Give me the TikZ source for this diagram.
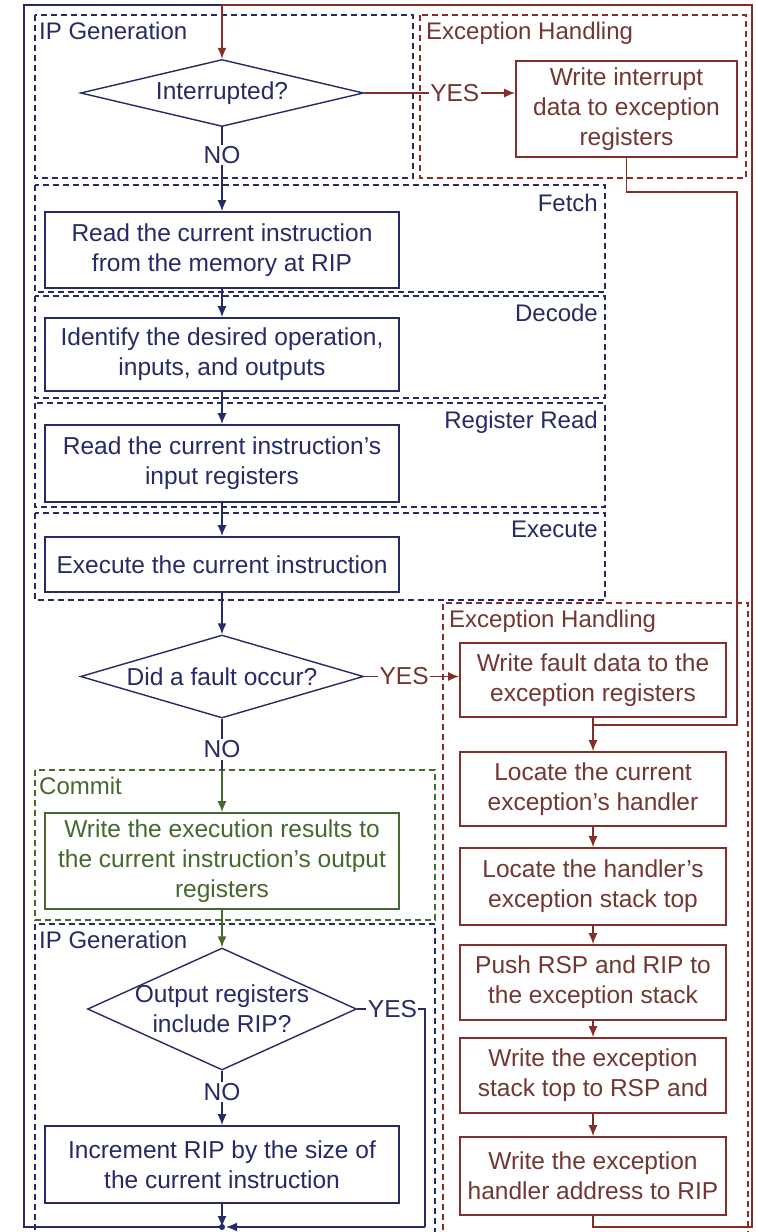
\documentclass[tikz,border=0pt]{standalone}
\usepackage{fontspec}
\setmainfont{Liberation Sans}
\usetikzlibrary{shapes.geometric,arrows.meta}
\definecolor{navy}{RGB}{38,42,102}
\definecolor{dred}{RGB}{135,45,40}
\definecolor{tred}{RGB}{115,55,50}
\definecolor{dgreen}{RGB}{70,105,45}
\begin{document}
\begin{tikzpicture}[x=1pt,y=-1pt,
  txt/.style={font=\fontsize{24.5}{30}\selectfont, align=center},
  bbox/.style={draw, line width=1.6pt, txt, inner sep=0pt},
  nbox/.style={bbox, draw=navy, text=navy, minimum width=354pt},
  rbox/.style={bbox, draw=dred, text=tred, minimum width=266pt},
  gbox/.style={bbox, draw=dgreen, text=dgreen, minimum width=354pt},
  dia/.style={shape=diamond, draw=navy, line width=1.4pt, inner sep=0pt},
  dlab/.style={txt, text=navy},
  grp/.style={line width=1.3pt, dash pattern=on 6pt off 4pt},
  glab/.style={font=\fontsize{24}{30}\selectfont, inner sep=2pt},
  ln/.style={line width=1.6pt},
  arr/.style={line width=1.6pt, -{Latex[length=11pt,width=9pt]}},
  yn/.style={txt, fill=white, inner sep=1.5pt},
]
\useasboundingbox (0,0) rectangle (756,1232);
\fill[white] (0,0) rectangle (756,1232);

% group boxes
\draw[grp, navy] (35,15) rectangle (413,178);
\node[glab, text=navy, anchor=north west] (gip1) at (37,20) {IP Generation};
\draw[grp, dred] (420,15) rectangle (746,178);
\node[glab, text=tred, anchor=north west] (gexc1) at (424,20) {Exception Handling};
\draw[grp, navy] (35,185) rectangle (605,292);
\node[glab, text=navy, anchor=north east] (gfetch) at (600,192) {Fetch};
\draw[grp, navy] (35,296) rectangle (605,398);
\node[glab, text=navy, anchor=north east] (gdec) at (600,302) {Decode};
\draw[grp, navy] (35,403) rectangle (605,507);
\node[glab, text=navy, anchor=north east] (greg) at (600,409) {Register Read};
\draw[grp, navy] (35,513) rectangle (605,600);
\node[glab, text=navy, anchor=north east] (gexe) at (600,519) {Execute};
\draw[grp, dred] (443,1240) -- (443,603) -- (748,603) -- (748,1240);
\node[glab, text=tred, anchor=north west] (gexc2) at (447,608) {Exception Handling};
\draw[grp, dgreen] (35,770) rectangle (435,920);
\node[glab, text=dgreen, anchor=north west] (gcom) at (37,775) {Commit};
\draw[grp, navy] (35,1240) -- (35,924) -- (435,924) -- (435,1240);
\node[glab, text=navy, anchor=north west] (gip2) at (37,929) {IP Generation};

% main column
\node[dia, minimum width=283pt, minimum height=67pt, label={[dlab]center:Interrupted?}] (d1) at (222,93) {};
\node[rbox, minimum width=221pt, minimum height=96pt] (intr) at (626.5,109) {Write interrupt\\data to exception\\registers};
\node[nbox, minimum height=76pt] (fetch) at (222,250) {Read the current instruction\\from the memory at RIP};
\node[nbox, minimum height=73pt] (decode) at (222,354.5) {Identify the desired operation,\\inputs, and outputs};
\node[nbox, minimum height=77pt] (regrd) at (222,463.5) {Read the current instruction’s\\input registers};
\node[nbox, minimum height=55pt] (exec) at (222,564.5) {Execute the current instruction};
\node[dia, minimum width=283pt, minimum height=83pt, label={[dlab]center:Did a fault occur?}] (d2) at (222,676.5) {};
\node[gbox, minimum height=96pt] (commit) at (222,861) {Write the execution results to\\the current instruction’s output\\registers};
\node[dia, minimum width=269pt, minimum height=122pt, label={[dlab]center:{Output registers\\include RIP?}}] (d3) at (222,1009) {};
\node[nbox, minimum height=77pt] (incr) at (222,1164.5) {Increment RIP by the size of\\the current instruction};

% exception column
\node[rbox, minimum height=74pt] (fault) at (593,680) {Write fault data to the\\exception registers};
\node[rbox, minimum height=74pt] (loc1) at (593,789) {Locate the current\\exception’s handler};
\node[rbox, minimum height=77pt] (loc2) at (593,886.5) {Locate the handler’s\\exception stack top};
\node[rbox, minimum height=75pt] (push) at (593,982.5) {Push RSP and RIP to\\the exception stack};
\node[rbox, minimum height=75pt] (wstk) at (593,1075.5) {Write the exception\\stack top to RSP and};
\node[rbox, minimum height=78pt] (whdl) at (593,1176) {Write the exception\\handler address to RIP};

% coordinates
\coordinate (tl) at (24,5);
\coordinate (tr) at (752,5);
\coordinate (bl) at (24,1227);
\coordinate (br) at (752,1227);
\coordinate (topj) at (222,5);
\coordinate (botj) at (222,1227);
\coordinate (hb) at (593,1227);
\coordinate (m1) at (737,192);
\coordinate (m2) at (737,725);
\coordinate (mj) at (593,725);
\coordinate (c1) at (222,770);
\coordinate (y3) at (425,1009);
\coordinate (y3b) at (425,1227);

% outer loops
\draw[ln, navy] (botj) -- (bl) -- (tl) -- (topj);
\draw[ln, dred] (whdl.south) -- (hb) -- (br) -- (tr) -- (topj);
\draw[arr, dred] (topj) -- (d1.north);

% interrupt
\draw[arr, dred] (d1.east) -- node[yn, text=tred, pos=0.6] {YES} (d1.east -| intr.west);
\draw[ln, dred] (intr.south) |- (m1) -- (m2) -- (mj);
\draw[arr, navy] (d1.south) -- node[yn, text=navy, pos=0.33] {NO} (fetch.north);

% pipeline
\draw[arr, navy] (fetch.south) -- (decode.north);
\draw[arr, navy] (decode.south) -- (regrd.north);
\draw[arr, navy] (regrd.south) -- (exec.north);
\draw[arr, navy] (exec.south) -- (d2.north);
\draw[arr, dred] (d2.east) -- node[yn, text=tred, pos=0.42] {YES} (d2.east -| fault.west);
\draw[ln, navy] (d2.south) -- node[yn, text=navy, pos=0.6] {NO} (c1);
\draw[arr, dgreen] (c1) -- (commit.north);
\draw[arr, dgreen] (commit.south) -- (d3.north);
\draw[arr, navy] (d3.south) -- node[yn, text=navy, pos=0.39] {NO} (incr.north);
\draw[ln, navy] (d3.east) -- node[yn, text=navy, pos=0.52] {YES} (y3) -- (y3b);
\draw[arr, navy, shorten >=4pt] (y3b) -- (botj);
\draw[arr, navy] (incr.south) -- (botj);
\fill[navy] (botj) circle (3pt);

% exception chain
\draw[arr, dred] (fault.south) -- (loc1.north);
\draw[arr, dred] (loc1.south) -- (loc2.north);
\draw[arr, dred] (loc2.south) -- (push.north);
\draw[arr, dred] (push.south) -- (wstk.north);
\draw[arr, dred] (wstk.south) -- (whdl.north);
\end{tikzpicture}
\end{document}
